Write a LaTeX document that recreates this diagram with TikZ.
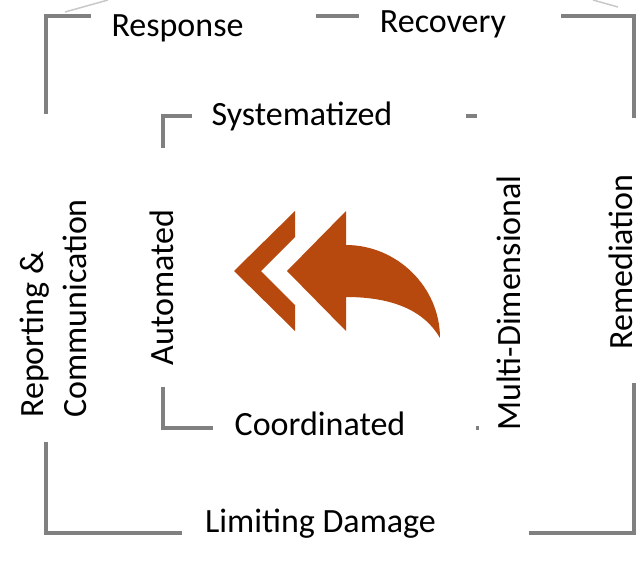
\documentclass[tikz,border=0pt]{standalone}
\usepackage{fontspec}
\setmainfont{Carlito}
\usetikzlibrary{backgrounds}
\definecolor{framegrey}{RGB}{128,128,128}
\definecolor{ghostgrey}{RGB}{200,200,200}
\definecolor{rust}{RGB}{184,73,14}
\pgfdeclarelayer{edgelayer}
\pgfdeclarelayer{nodelayer}
\pgfsetlayers{edgelayer,nodelayer,main}
\tikzstyle{word}=[inner sep=0pt, font=\fontsize{34}{43}\selectfont, anchor=base]
\tikzstyle{upword}=[word, rotate=90]
\tikzstyle{bracket}=[draw=framegrey, line width=4pt]
\tikzstyle{ghost}=[draw=ghostgrey, line width=1.5pt]
\tikzstyle{arrowfill}=[fill=rust, draw=none]

\begin{document}
\begin{tikzpicture}[x=1pt, y=-1pt]
            \useasboundingbox (0,0) rectangle (641,563);
            \begin{pgfonlayer}{nodelayer}
                \node [style=word] (response) at (177.5, 36) {Response};
                \node [style=word] (recovery) at (443, 32) {Recovery};
                \node [style=word] (systematized) at (302, 125) {Systematized};
                \node [style=word] (coordinated) at (320, 435) {Coordinated};
                \node [style=word] (damage) at (320.5, 532) {Limiting Damage};
                \node [style=upword, anchor=west, align=left] (reporting) at (53.5, 418) {Reporting \&\\Communication};
                \node [style=upword] (automated) at (173, 287.5) {Automated};
                \node [style=upword] (multidim) at (520, 303) {Multi-Dimensional};
                \node [style=upword] (remediation) at (632, 262) {Remediation};

                \coordinate (chev) at (234, 271);
                \coordinate (head) at (287, 271);
                \coordinate (tail) at (440, 338);
            \end{pgfonlayer}
            \begin{pgfonlayer}{edgelayer}
                % outer frame
                \draw [style=ghost] (65, 12) to (108, 0);
                \draw [style=ghost] (593, 0) to (618, 7);
                \draw [style=bracket] (46, 114) -- (46, 16) -- (91, 16);
                \draw [style=bracket] (316, 16) -- (359, 16);
                \draw [style=bracket] (561, 16) -- (634, 16) -- (634, 118);
                \draw [style=bracket] (46, 442) -- (46, 533) -- (182, 533);
                \draw [style=bracket] (529, 533) -- (634, 533) -- (634, 383);
                % inner frame
                \draw [style=bracket] (163, 148) -- (163, 116) -- (192, 116);
                \draw [style=bracket] (466, 116) -- (477, 116);
                \draw [style=bracket] (163, 387) -- (163, 428) -- (213, 428);
                \draw [style=bracket] (476, 428) -- (479, 428);

                % arrow
                \fill [style=arrowfill] (295, 211) -- (chev) -- (295, 331) -- (295, 305) -- (261, 271) -- (295, 237) -- cycle;
                \fill [style=arrowfill] (head) -- (346, 211) -- (346, 245)
                    .. controls (397, 245) and (440, 287) .. (tail)
                    .. controls (425, 312) and (395, 297) .. (346, 297)
                    -- (346, 331) -- cycle;
            \end{pgfonlayer}
        \end{tikzpicture}
\end{document}
